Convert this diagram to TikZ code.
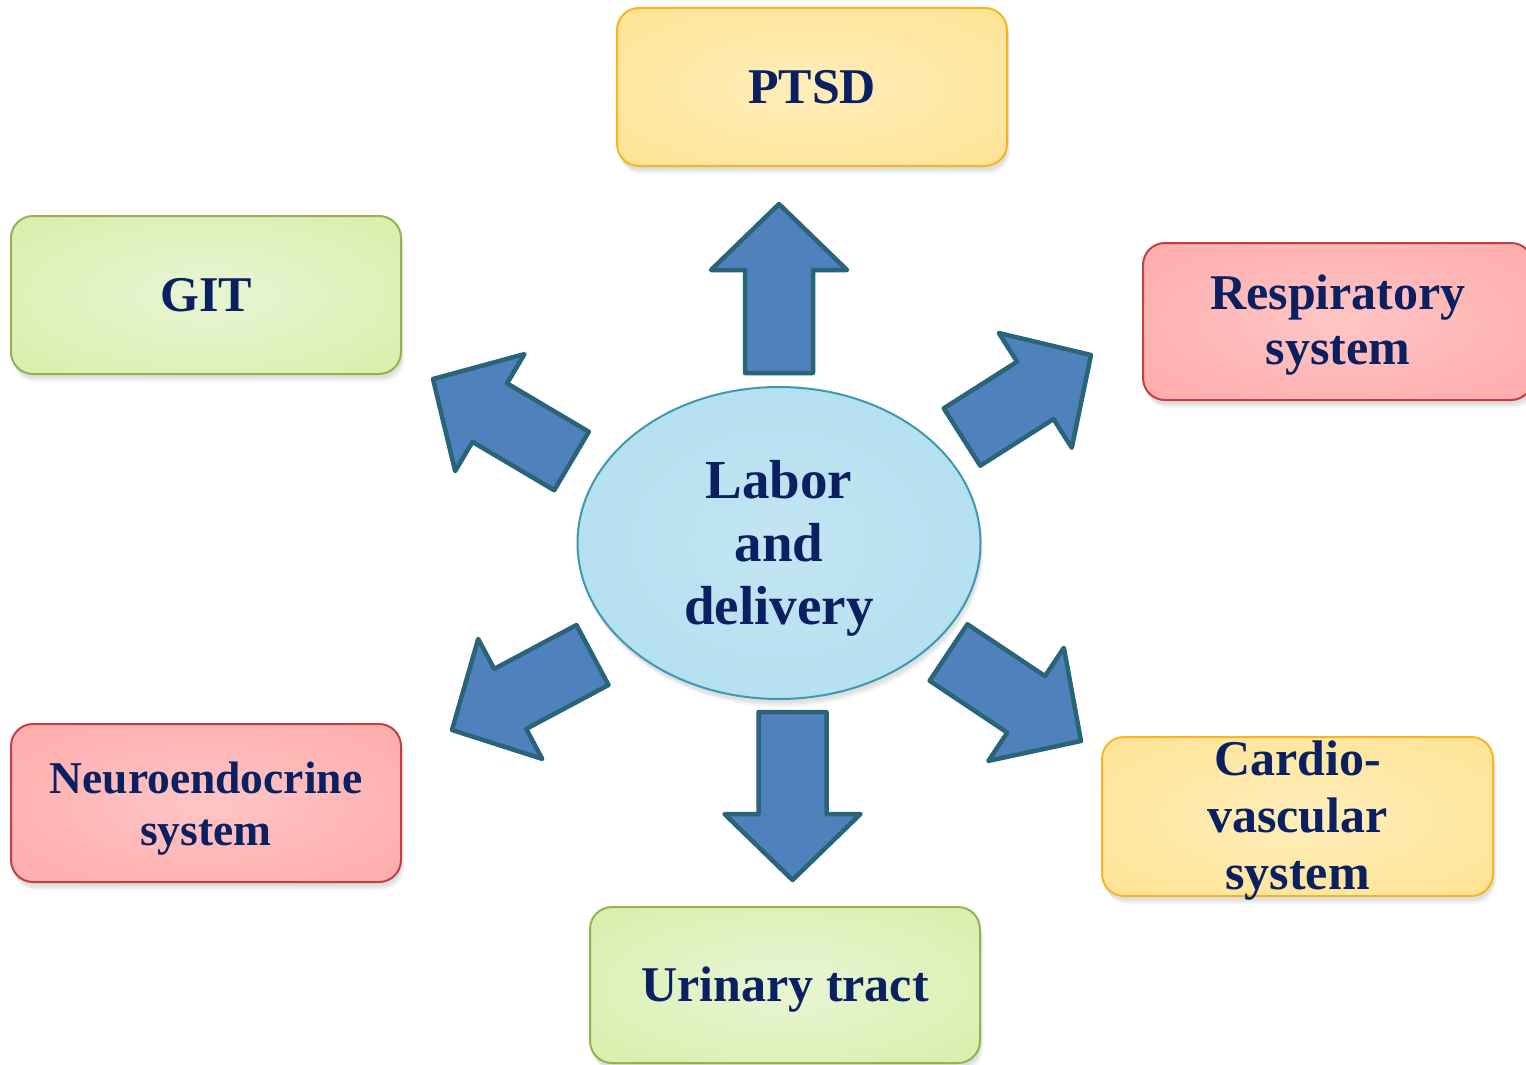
\documentclass[tikz,border=0pt]{standalone}
\usepackage{fontspec}
\setmainfont{Liberation Serif}
\usetikzlibrary{shapes.geometric,calc,shadows}
\definecolor{navy}{HTML}{0A2060}
\definecolor{yelin}{HTML}{FFEEBA}
\definecolor{yelout}{HTML}{FEDC7E}
\definecolor{yelbd}{HTML}{F4B52A}
\definecolor{grnin}{HTML}{E8F5D4}
\definecolor{grnout}{HTML}{CDEB93}
\definecolor{grnbd}{HTML}{92B350}
\definecolor{redin}{HTML}{FFC5C5}
\definecolor{redout}{HTML}{FF9D9D}
\definecolor{redbd}{HTML}{C23F42}
\definecolor{ellin}{HTML}{C2E5F3}
\definecolor{ellout}{HTML}{A8DAEC}
\definecolor{ellbd}{HTML}{3D98B0}
\definecolor{arrfill}{HTML}{4F81BD}
\definecolor{arrbd}{HTML}{2A6479}
\pgfdeclareradialshading{yelshade}{\pgfpoint{0bp}{0bp}}{color(0bp)=(yelin); color(55bp)=(yelout); color(100bp)=(yelout)}
\pgfdeclareradialshading{grnshade}{\pgfpoint{0bp}{0bp}}{color(0bp)=(grnin); color(55bp)=(grnout); color(100bp)=(grnout)}
\pgfdeclareradialshading{redshade}{\pgfpoint{0bp}{0bp}}{color(0bp)=(redin); color(55bp)=(redout); color(100bp)=(redout)}
\pgfdeclareradialshading{ellshade}{\pgfpoint{0bp}{0bp}}{color(0bp)=(ellin); color(50bp)=(ellout); color(100bp)=(ellout)}
\newcommand\blockarr[2]{%
  \coordinate (hb) at ($(#2)!66pt!(#1)$);
  \draw[bigarrow] ($(#1)!34pt!90:(#2)$) -- ($(hb)!34pt!-90:(#1)$) -- ($(hb)!68pt!-90:(#1)$)
    -- (#2) -- ($(hb)!68pt!90:(#1)$) -- ($(hb)!34pt!90:(#1)$) -- ($(#1)!34pt!-90:(#2)$) -- cycle;
}
\begin{document}
\begin{tikzpicture}[x=1pt,y=-1pt,
  softshadow/.style={
    drop shadow={opacity=0.10, shadow xshift=1pt, shadow yshift=-4pt},
    drop shadow={opacity=0.10, shadow xshift=2pt, shadow yshift=-6pt},
    drop shadow={opacity=0.08, shadow xshift=3pt, shadow yshift=-8pt}},
  box/.style={rounded corners=22pt, minimum width=390pt, minimum height=158pt, line width=2pt,
    inner sep=0pt, softshadow},
  yelbox/.style={box, draw=yelbd, shading=yelshade},
  grnbox/.style={box, draw=grnbd, shading=grnshade},
  redbox/.style={box, draw=redbd, shading=redshade},
  lbl/.style={align=center, text=navy, inner sep=0pt, font=\fontsize{50}{55}\selectfont\bfseries},
  bigarrow/.style={fill=arrfill, draw=arrbd, line width=4.5pt, line join=round}]
\useasboundingbox (0,0) rectangle (1526,1065);

% centre
\node[ellipse, minimum width=403pt, minimum height=312pt, draw=ellbd, line width=2pt,
  shading=ellshade, inner sep=0pt, softshadow] (c) at (779,543) {};
\node[lbl, font=\fontsize{55}{63}\selectfont\bfseries] (ct) at ($(c)+(0,5)$) {Labor\\and\\delivery};

% boxes
\node[yelbox] (ptsd) at (812,87) {};
\node[lbl] (ptsdt) at (ptsd) {PTSD};
\node[grnbox] (git) at (206,295) {};
\node[lbl] (gitt) at (git) {GIT};
\node[redbox, minimum height=157pt] (resp) at (1338,321.5) {};
\node[lbl] (respt) at ($(resp)+(0,4)$) {Respiratory\\system};
\node[redbox] (neuro) at (206,803) {};
\node[lbl, font=\fontsize{45.5}{52}\selectfont\bfseries] (neurot) at ($(neuro)+(0,6)$) {Neuroendocrine\\system};
\node[yelbox, minimum width=391pt, minimum height=159pt] (cardio) at (1297.5,816.5) {};
\node[lbl, font=\fontsize{50}{57}\selectfont\bfseries] (cardiot) at ($(cardio)+(0,4)$) {Cardio-\\vascular\\system};
\node[grnbox, minimum height=156pt] (uri) at (785,985) {};
\node[lbl] (urit) at ($(uri)+(0,5)$) {Urinary tract};

% arrow end points
\coordinate (uT) at (779,373);   \coordinate (uP) at (779,204);
\coordinate (dT) at (792.5,712); \coordinate (dP) at (792.5,880);
\coordinate (urT) at (962,437);  \coordinate (urP) at (1091,355);
\coordinate (ulT) at (571.5,461);\coordinate (ulP) at (433,379);
\coordinate (llT) at (592.5,655);\coordinate (llP) at (452,730);
\coordinate (lrT) at (948.5,652.5);\coordinate (lrP) at (1081,741);

\blockarr{uT}{uP}
\blockarr{dT}{dP}
\blockarr{urT}{urP}
\blockarr{ulT}{ulP}
\blockarr{llT}{llP}
\blockarr{lrT}{lrP}
\end{tikzpicture}
\end{document}
